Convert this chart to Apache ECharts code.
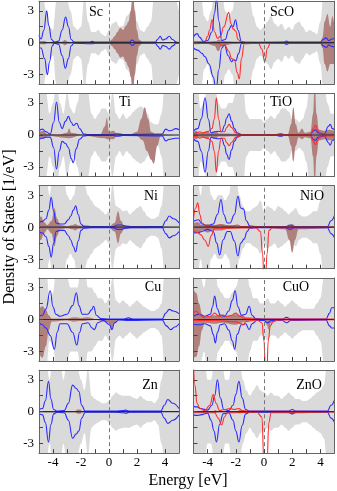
<!DOCTYPE html>
<html><head><meta charset="utf-8">
<script src="https://cdn.jsdelivr.net/npm/echarts@6/dist/echarts.min.js"></script>
<style>html,body{margin:0;padding:0;background:#fff}#c{width:337px;height:491px}</style>
</head><body><div id="c"></div><script>
// Energy grid for the grey (total) DOS envelope, -5..5 step 0.25
const ENERGY = [-5,-4.75,-4.5,-4.25,-4,-3.75,-3.5,-3.25,-3,-2.75,-2.5,-2.25,-2,-1.75,-1.5,-1.25,-1,-0.75,-0.5,-0.25,0,0.25,0.5,0.75,1,1.25,1.5,1.75,2,2.25,2.5,2.75,3,3.25,3.5,3.75,4,4.25,4.5,4.75,5];
const X_TICKS = [-4,-3,-2,-1,0,1,2,3,4];
const X_LABELS = [-4,-2,0,2,4];
const Y_TICKS = [-3,-1.5,0,1.5,3];
const Y_LABELS = [-3,0,3];
const PANEL_NAMES = ['Sc','ScO','Ti','TiO','Ni','NiO','Cu','CuO','Zn','ZnO'];

// grey envelope magnitude (values > 3.9 run off the panel)
const SC_GRAY  = [5,5,3,1.5,1.2,4,5,5,4,3,1.5,1.2,1.5,4.5,2,1,1,1.2,0.8,0.6,1.2,1.8,2,1.5,1.6,2.5,2.8,3,2,1.2,1,1.5,2,5,5,5,5,5,5,4,3];
const SCO_GRAY = [5,5,5,2.5,2,3,5,5,5,3,2.5,3,5,5,5,5,4,2.5,1.5,1.2,1.5,2,2.5,1.8,1.5,1.8,1.2,1.5,1.2,1.8,2,1.5,1,1.2,1,0.8,2,5,5,5,5];
const TI_GRAY  = [5,5,4,2,3,5,3,2,4,2.5,2,3,5,5,4,2,1.5,2,2.5,2.5,2,4,2,1.5,2,1.5,1.8,2.2,2.5,2.7,2.5,2,1.2,1,1,2,5,5,5,5,5];
const TIO_GRAY = [5,5,2.5,3,5,5,5,3,2.5,2.5,3,3,4,5,5,2,1.5,1.5,1.5,1.5,1.2,1.5,1.8,1.5,2,2.5,2.5,2.2,1.5,1.5,1.2,1.5,2.5,5,5,5,5,5,3,2,2];
const NI_GRAY  = [5,5,5,3,5,5,5,5,3,2.5,3,5,5,4,3,2.5,2,1.8,1.5,1.2,1.5,4,2,1.8,1.5,1.6,1.2,1.5,1.8,2,1.5,1,0.8,0.8,1,2,5,5,5,5,5];
const NIO_GRAY = [5,5,3,5,5,3,2.5,3,3,2.5,3,5,5,3,2,1.5,1.5,1.8,2,2.5,1.5,2,1.8,1.5,2,1.8,1.5,1.2,1.5,1.8,1.2,1,1,1.2,1.5,1.5,2.5,5,5,5,5];
const CU_GRAY  = [5,5,5,2,2.5,5,5,5,4,3,3,3,5,5,3,3,2.5,2,2,1.5,2,4,1.8,1.5,1.8,1.5,1.2,1.5,1.8,1.5,1.2,1,0.8,0.8,1,1.5,5,5,5,5,5];
const CUO_GRAY = [5,5,4,3,5,5,5,3,2.5,2,2,2.5,3,4,5,5,3,2,2,1.5,1.5,2,1.5,1.5,1.8,1.5,1.2,1.5,1.8,1.5,1.2,1,1,1,1,1.5,2,4,5,5,5];
const ZN_GRAY  = [5,5,5,3,5,5,5,3,5,5,5,4,3,2,4,1.5,1.2,1,0.8,0.8,1,1.5,1.8,1.6,1.5,1.5,1.5,1.3,1.2,1.5,1.2,1,1,0.8,1.2,3,5,5,5,5,5];
const ZNO_GRAY = [5,5,5,5,3,3,5,5,5,3,3,5,5,5,3,2,1.5,2,2.5,2,1.8,1.5,1.8,1.5,1.5,1.2,1.5,1.8,1.5,1.2,1.2,1,1,1.2,1.5,1.8,2,2.5,5,5,5];

// brown (projected) DOS, spin up / spin down
const SC_BROWN_UP = [[-5,0.15],[-4.6,0.15],[-4.4,0.05],[-3.8,0.12],[-3.35,0.1],[-3.15,0.25],[-2.95,0.1],[-2.5,0.05],[0,0.05],[0.2,0.3],[0.4,0.6],[0.6,1.0],[0.8,1.4],[1.0,1.2],[1.2,1.6],[1.4,2.0],[1.55,3],[1.7,5],[1.85,3],[2.0,1.2],[2.15,0.3],[2.4,0.05],[5,0.05]];
const SC_BROWN_DN = [[-5,-0.15],[-4.6,-0.15],[-4.4,-0.05],[-3.8,-0.12],[-3.35,-0.1],[-3.15,-0.25],[-2.95,-0.1],[-2.5,-0.05],[0,-0.05],[0.2,-0.3],[0.4,-0.6],[0.6,-1.0],[0.8,-1.4],[1.0,-1.3],[1.2,-1.8],[1.4,-2.3],[1.55,-3.2],[1.7,-5],[1.85,-3],[2.0,-1.2],[2.15,-0.3],[2.4,-0.05],[5,-0.05]];
const SCO_BROWN_UP = [[-5,0.15],[-4,0.12],[-3.4,0.15],[-3.2,0.3],[-3.0,0.15],[-2.2,0.12],[-1,0.08],[0,0.05],[4.0,0.05],[4.15,0.5],[4.3,2],[4.5,2.7],[4.7,1.5],[4.85,2.5],[5,1.5]];
const SCO_BROWN_DN = [[-5,-0.15],[-4,-0.12],[-3.5,-0.3],[-3.25,-0.8],[-3.0,-0.3],[-2.2,-0.12],[-1,-0.08],[0,-0.05],[4.0,-0.05],[4.15,-0.5],[4.3,-2],[4.5,-2.7],[4.7,-2],[5,-2]];
const TI_BROWN_UP = [[-5,0.3],[-4.7,0.4],[-4.4,0.1],[-3.5,0.05],[-3.0,0.2],[-2.85,0.6],[-2.7,0.2],[-2,0.05],[-0.6,0.1],[-0.3,0.8],[-0.15,1.6],[0,0.3],[0.3,0.4],[0.6,0.1],[1.5,0.05],[2.0,0.3],[2.3,1.5],[2.55,2.6],[2.8,1.5],[3.0,0.3],[3.3,0.1],[4,0.05],[5,0.1]];
const TI_BROWN_DN = [[-5,-0.4],[-4.7,-0.3],[-4.4,-0.1],[-2.85,-0.3],[-2,-0.05],[-0.3,-0.3],[-0.1,-0.4],[0.3,-0.4],[0.6,-0.1],[2.0,-0.1],[2.4,-0.5],[2.7,-1.5],[3.0,-2.3],[3.2,-2.7],[3.45,-1],[3.7,-0.1],[5,-0.1]];
const TIO_BROWN_UP = [[-5,0.3],[-4.8,0.4],[-4.6,0.2],[-4.3,0.2],[-4.0,0.4],[-3.8,0.15],[-3.4,0.35],[-3.2,0.15],[-1,0.1],[0,0.05],[1.7,0.1],[1.92,1.0],[2.08,2.6],[2.25,1],[2.45,0.2],[2.7,0.6],[2.9,0.2],[3.3,0.3],[3.48,2],[3.6,5],[3.72,2],[3.9,0.5],[4.3,0.4],[4.6,0.5],[5,0.4]];
const TIO_BROWN_DN = [[-5,-0.3],[-4.8,-0.4],[-4.6,-0.2],[-4.3,-0.2],[-4.0,-0.4],[-3.8,-0.15],[-3.4,-0.35],[-3.2,-0.15],[-1,-0.1],[0,-0.05],[1.7,-0.1],[1.92,-1.0],[2.08,-2.5],[2.25,-1],[2.45,-0.2],[2.7,-0.4],[2.9,-0.2],[3.3,-0.3],[3.48,-2],[3.6,-5],[3.72,-2],[3.9,-0.5],[4.3,-0.4],[4.6,-0.5],[5,-0.4]];
const NI_BROWN_UP = [[-5,0.9],[-4.85,1.0],[-4.65,0.5],[-4.4,0.2],[-4.1,0.6],[-3.9,1.8],[-3.7,0.8],[-3.5,0.2],[-3,0.1],[-2.6,0.2],[-2.4,0.3],[-2.2,0.15],[-1.5,0.05],[0,0.05],[0.4,0.4],[0.65,1.5],[0.85,0.6],[1.1,0.1],[5,0.05]];
const NI_BROWN_DN = [[-5,-1.2],[-4.85,-1.2],[-4.65,-0.6],[-4.4,-0.2],[-4.1,-0.6],[-3.9,-1.8],[-3.7,-0.8],[-3.5,-0.2],[-3,-0.1],[-2.6,-0.2],[-2.4,-0.3],[-2.2,-0.15],[-1.5,-0.05],[0,-0.05],[0.4,-0.4],[0.65,-1.5],[0.85,-0.6],[1.1,-0.1],[5,-0.05]];
const NIO_BROWN_UP = [[-5,0.4],[-4.7,0.5],[-4.4,0.2],[-4,0.3],[-3.6,0.2],[-3,0.3],[-2.5,0.15],[-1.5,0.1],[0,0.05],[1.7,0.1],[2.0,0.3],[2.3,0.05],[5,0.05]];
const NIO_BROWN_DN = [[-5,-0.5],[-4.7,-0.6],[-4.4,-0.3],[-4,-0.5],[-3.6,-0.3],[-3,-0.3],[-2.5,-0.15],[-1.5,-0.1],[0,-0.05],[1.5,-0.2],[1.8,-1.2],[2.0,-2.4],[2.2,-1.2],[2.45,-0.2],[5,-0.05]];
const CU_BROWN_UP = [[-5,1.0],[-4.75,1.25],[-4.5,0.9],[-4.3,0.4],[-4.1,0.1],[-3,0.1],[-2.5,0.2],[-2,0.15],[-1.5,0.2],[-1,0.05],[5,0.05]];
const CU_BROWN_DN = [[-5,-3.2],[-4.75,-3.6],[-4.5,-2.5],[-4.3,-1],[-4.1,-0.2],[-3,-0.1],[-2.5,-0.2],[-2,-0.15],[-1,-0.05],[0,-0.3],[0.15,-1.0],[0.35,-0.4],[0.6,-0.05],[5,-0.05]];
const CUO_BROWN_UP = [[-5,2.8],[-4.8,2.5],[-4.6,1.5],[-4.4,0.5],[-4.2,0.2],[-3.5,0.4],[-3.0,0.5],[-2.6,0.3],[-2.0,0.5],[-1.6,0.4],[-1.2,0.2],[0,0.05],[5,0.05]];
const CUO_BROWN_DN = [[-5,-3.6],[-4.8,-3.5],[-4.6,-2.5],[-4.4,-1.0],[-4.2,-0.3],[-3.5,-0.4],[-3.0,-0.3],[-2.0,-0.5],[-1.6,-0.3],[-1.2,-0.15],[0,-0.1],[0.2,-0.5],[0.35,-1.0],[0.5,-0.3],[0.8,-0.05],[5,-0.05]];
const ZN_BROWN_UP = [[-5,0.05],[-2.4,0.05],[-2.25,0.2],[-2.05,0.2],[-1.9,0.05],[5,0.03]];
const ZN_BROWN_DN = [[-5,-0.05],[-2.4,-0.05],[-2.25,-0.2],[-2.05,-0.2],[-1.9,-0.05],[5,-0.03]];
const ZNO_BROWN_UP = [[-5,0.05],[-3.6,0.05],[-3.45,0.15],[-3.3,0.05],[-1.9,0.05],[-1.75,0.15],[-1.6,0.15],[-1.45,0.05],[5,0.03]];
const ZNO_BROWN_DN = [[-5,-0.05],[-3.6,-0.05],[-3.45,-0.15],[-3.3,-0.05],[-1.9,-0.05],[-1.75,-0.15],[-1.6,-0.15],[-1.45,-0.05],[5,-0.03]];

// blue curves, spin up / spin down
const SC_BLUE_UP = [[-5,0.7],[-4.85,0.35],[-4.65,1.2],[-4.45,3.0],[-4.3,1.6],[-4.1,0.3],[-3.9,0.05],[-3.6,0.15],[-3.35,1.2],[-3.1,2.4],[-2.9,1.5],[-2.7,0.3],[-2.5,0.05],[-1.4,0.05],[-1.2,0.12],[-1.0,0.05],[1.45,0.05],[1.65,0.25],[1.9,0.05],[3.3,0.05],[3.5,0.35],[3.65,0.6],[3.85,0.25],[4.05,0.35],[4.3,0.6],[4.55,0.3],[4.8,0.05],[5,0.02]];
const SC_BLUE_DN = [[-5,-0.5],[-4.85,-0.5],[-4.6,-1.5],[-4.4,-3.0],[-4.25,-1.8],[-4.05,-0.3],[-3.9,-0.05],[-3.6,-0.15],[-3.35,-1.2],[-3.12,-2.4],[-2.9,-1.5],[-2.7,-0.3],[-2.5,-0.05],[-1.2,-0.1],[-1.0,-0.05],[1.45,-0.05],[1.65,-0.25],[1.9,-0.05],[3.3,-0.05],[3.5,-0.35],[3.65,-0.6],[3.85,-0.25],[4.05,-0.35],[4.3,-0.6],[4.55,-0.3],[4.8,-0.05],[5,-0.02]];
const SCO_BLUE_UP = [[-5,0.55],[-4.75,0.85],[-4.55,0.5],[-4.3,0.1],[-4.0,0.2],[-3.7,1.0],[-3.5,2.8],[-3.37,4.2],[-3.2,2.0],[-3.0,0.2],[-2.75,0.3],[-2.5,1.2],[-2.33,1.6],[-2.2,1.5],[-2.02,2.15],[-1.85,1.2],[-1.6,0.1],[-1.3,0.02],[1.4,0.05],[1.6,0.15],[1.8,0.05],[4.0,0.05],[4.2,0.3],[4.4,0.45],[4.6,0.2],[4.8,0.35],[5,0.4]];
const SCO_BLUE_DN = [[-5,-0.5],[-4.7,-0.7],[-4.4,-1.0],[-4.2,-1.3],[-3.9,-2.0],[-3.6,-3.2],[-3.4,-4.5],[-3.2,-2.5],[-3.0,-0.5],[-2.8,-0.2],[-2.55,-1.2],[-2.3,-1.8],[-2.15,-1.6],[-2.0,-1.7],[-1.8,-1.0],[-1.6,-0.1],[-1.3,-0.02],[1.4,-0.05],[1.6,-0.15],[1.8,-0.05],[4.0,-0.05],[4.2,-0.3],[4.4,-0.45],[4.6,-0.2],[4.8,-0.35],[5,-0.4]];
const TI_BLUE_UP = [[-5,0.4],[-4.75,0.55],[-4.5,0.3],[-4.2,0.1],[-3.95,1.2],[-3.75,3.1],[-3.55,1.2],[-3.35,0.6],[-3.1,1.3],[-2.9,1.75],[-2.7,1.2],[-2.55,0.9],[-2.3,1.1],[-2.1,0.6],[-1.8,0.1],[-1.5,0.05],[0.3,0.05],[0.6,0.12],[1.0,0.05],[3.8,0.1],[4.05,0.55],[4.3,0.4],[4.5,0.45],[4.75,0.6],[5,0.5]];
const TI_BLUE_DN = [[-5,-0.4],[-4.75,-0.3],[-4.5,-0.2],[-4.2,-0.2],[-3.95,-1.2],[-3.75,-3.2],[-3.55,-1.5],[-3.35,-0.6],[-3.1,-0.8],[-2.9,-1.2],[-2.7,-2.2],[-2.55,-2.6],[-2.35,-1.3],[-2.1,-0.4],[-1.8,-0.1],[-1.5,-0.05],[0.3,-0.05],[0.6,-0.12],[1.0,-0.05],[3.8,-0.1],[4.05,-0.55],[4.3,-0.4],[4.75,-0.3],[5,-0.3]];
const TIO_BLUE_UP = [[-5,0.4],[-4.7,0.6],[-4.45,1.5],[-4.18,3.5],[-3.95,1.5],[-3.75,0.2],[-3.5,0.3],[-3.25,0.35],[-3.0,0.3],[-2.8,0.9],[-2.65,1.6],[-2.48,2.0],[-2.3,1.3],[-2.1,0.6],[-1.9,0.2],[-1.6,0.05],[0.9,0.05],[1.2,0.12],[1.4,0.05],[3.3,0.05],[3.5,0.4],[3.65,0.5],[3.85,0.2],[4.3,0.1],[4.55,0.8],[4.7,1.0],[4.85,0.6],[5,0.5]];
const TIO_BLUE_DN = [[-5,-0.4],[-4.7,-0.6],[-4.45,-1.5],[-4.18,-3.5],[-3.95,-1.5],[-3.75,-0.2],[-3.5,-0.3],[-3.25,-0.35],[-3.0,-0.3],[-2.8,-1.0],[-2.65,-1.8],[-2.48,-2.3],[-2.3,-1.4],[-2.1,-0.6],[-1.9,-0.2],[-1.6,-0.05],[0.9,-0.05],[1.2,-0.12],[1.4,-0.05],[3.3,-0.05],[3.5,-0.4],[3.65,-0.5],[3.85,-0.2],[4.3,-0.1],[4.55,-0.7],[4.7,-0.95],[4.85,-0.5],[5,-0.4]];
const NI_BLUE_UP = [[-5,0.45],[-4.75,0.55],[-4.5,0.8],[-4.3,1.6],[-4.13,2.8],[-3.95,1.5],[-3.78,0.4],[-3.5,0.3],[-3.2,0.3],[-2.9,0.7],[-2.73,1.05],[-2.55,1.6],[-2.38,2.0],[-2.2,1.2],[-2.0,0.3],[-1.8,0.1],[-1.2,0.05],[0.3,0.05],[0.6,0.2],[0.9,0.2],[1.2,0.1],[1.6,0.05],[3.8,0.05],[4.05,0.6],[4.3,1.05],[4.6,0.8],[5,0.4]];
const NI_BLUE_DN = [[-5,-0.45],[-4.75,-0.55],[-4.5,-0.9],[-4.3,-1.8],[-4.13,-2.8],[-3.95,-1.5],[-3.78,-0.4],[-3.5,-0.3],[-3.2,-0.3],[-2.9,-0.8],[-2.73,-1.2],[-2.55,-1.8],[-2.38,-2.3],[-2.2,-1.3],[-2.0,-0.3],[-1.8,-0.1],[-1.2,-0.05],[0.3,-0.05],[0.6,-0.2],[0.9,-0.2],[1.2,-0.1],[1.6,-0.05],[3.8,-0.05],[4.05,-0.6],[4.3,-1.0],[4.6,-0.8],[5,-0.4]];
const NIO_BLUE_UP = [[-5,0.55],[-4.65,0.7],[-4.4,0.3],[-4.0,0.1],[-3.6,0.3],[-3.3,1.2],[-3.05,2.6],[-2.85,1.2],[-2.6,0.4],[-2.4,0.4],[-2.1,1.2],[-1.85,2.9],[-1.65,1.8],[-1.45,1.7],[-1.25,0.6],[-1.0,0.1],[-0.5,0.05],[1.5,0.05],[1.85,0.2],[2.2,0.05],[4.5,0.05],[4.75,0.6],[5,1.1]];
const NIO_BLUE_DN = [[-5,-0.55],[-4.65,-0.5],[-4.4,-0.4],[-4.0,-0.2],[-3.6,-0.4],[-3.35,-1.5],[-3.15,-2.6],[-2.9,-1.2],[-2.6,-0.4],[-2.4,-0.4],[-2.1,-1.3],[-1.85,-2.7],[-1.65,-1.5],[-1.4,-1.1],[-1.2,-0.4],[-1.0,-0.1],[-0.5,-0.05],[1.5,-0.05],[1.85,-0.2],[2.2,-0.05],[4.5,-0.05],[4.75,-0.6],[5,-1.0]];
const CU_BLUE_UP = [[-5,0.3],[-4.75,0.4],[-4.5,1.0],[-4.2,2.7],[-4.0,1.2],[-3.8,0.5],[-3.5,0.3],[-3.0,0.5],[-2.6,1.3],[-2.33,2.5],[-2.15,1.3],[-1.9,0.5],[-1.5,0.5],[-1.25,0.9],[-1.1,1.25],[-0.9,0.4],[-0.6,0.1],[0,0.05],[1.0,0.05],[1.4,0.15],[1.7,0.05],[3.8,0.05],[4.05,0.6],[4.3,0.95],[4.6,0.8],[5,0.55]];
const CU_BLUE_DN = [[-5,-0.3],[-4.75,-0.5],[-4.5,-0.8],[-4.2,-1.5],[-3.9,-2.8],[-3.7,-1.2],[-3.5,-0.4],[-3.0,-0.4],[-2.6,-1.2],[-2.3,-2.4],[-2.1,-1.2],[-1.9,-0.4],[-1.5,-0.3],[-1.2,-0.8],[-1.05,-0.95],[-0.8,-0.3],[-0.4,-0.1],[0.05,-0.5],[0.2,-0.95],[0.4,-0.3],[0.7,-0.05],[1.4,-0.1],[3.8,-0.05],[4.1,-0.6],[4.4,-0.95],[4.7,-0.7],[5,-0.4]];
const CUO_BLUE_UP = [[-5,0.3],[-4.6,0.5],[-4.2,0.3],[-3.8,0.5],[-3.65,1.2],[-3.5,2.2],[-3.3,1.0],[-3.1,0.4],[-2.8,0.3],[-2.5,0.8],[-2.25,1.8],[-2.05,2.7],[-1.85,1.2],[-1.6,0.4],[-1.3,0.5],[-1.05,1.25],[-0.85,0.4],[-0.6,0.1],[0,0.05],[1.3,0.05],[1.6,0.2],[1.9,0.05],[4.4,0.05],[4.65,0.6],[4.8,1.1],[5,1.1]];
const CUO_BLUE_DN = [[-5,-0.45],[-4.6,-0.5],[-4.2,-0.4],[-3.8,-0.6],[-3.6,-1.4],[-3.45,-2.2],[-3.3,-1.2],[-3.1,-0.5],[-2.8,-0.4],[-2.5,-1.0],[-2.25,-2.0],[-2.08,-2.8],[-1.9,-1.4],[-1.6,-0.5],[-1.3,-0.4],[-1.05,-0.95],[-0.85,-0.4],[-0.5,-0.1],[0,-0.1],[0.25,-0.3],[0.5,-0.1],[1.3,-0.1],[1.6,-0.3],[1.9,-0.1],[4.4,-0.05],[4.65,-0.6],[4.8,-0.8],[5,-0.8]];
const ZN_BLUE_UP = [[-5,0.2],[-4.75,0.3],[-4.55,1.0],[-4.32,2.85],[-4.15,1.2],[-3.95,0.2],[-3.7,0.05],[-3.2,0.1],[-2.9,0.8],[-2.6,2.5],[-2.35,2.2],[-2.15,1.9],[-1.95,0.6],[-1.7,0.05],[0.5,0.05],[1.0,0.1],[1.2,0.15],[1.45,0.05],[3.7,0.05],[3.95,0.6],[4.2,1.15],[4.55,0.8],[5,0.3]];
const ZN_BLUE_DN = [[-5,-0.2],[-4.75,-0.3],[-4.55,-1.0],[-4.32,-2.85],[-4.15,-1.2],[-3.95,-0.2],[-3.7,-0.05],[-3.2,-0.1],[-2.9,-0.8],[-2.6,-2.5],[-2.35,-2.1],[-2.15,-1.8],[-1.95,-0.6],[-1.7,-0.05],[0.5,-0.05],[1.0,-0.1],[1.2,-0.15],[1.45,-0.05],[3.7,-0.05],[3.95,-0.6],[4.2,-1.1],[4.55,-0.8],[5,-0.3]];
const ZNO_BLUE_UP = [[-5,0.5],[-4.75,0.45],[-4.5,0.3],[-4.0,0.15],[-3.7,0.6],[-3.5,1.5],[-3.3,3.0],[-3.1,1.3],[-2.85,0.2],[-2.5,0.1],[-2.2,0.6],[-2.0,1.6],[-1.78,2.85],[-1.55,1.3],[-1.3,0.2],[-1.0,0.05],[1.7,0.05],[2.0,0.2],[2.3,0.05],[4.5,0.05],[4.75,0.6],[5,1.1]];
const ZNO_BLUE_DN = [[-5,-0.3],[-4.75,-0.35],[-4.5,-0.3],[-4.0,-0.15],[-3.75,-0.8],[-3.55,-1.8],[-3.37,-2.85],[-3.15,-1.2],[-2.9,-0.2],[-2.5,-0.1],[-2.2,-0.8],[-2.0,-1.8],[-1.78,-2.85],[-1.55,-1.3],[-1.3,-0.2],[-1.0,-0.05],[1.7,-0.05],[2.0,-0.2],[2.3,-0.05],[4.5,-0.05],[4.75,-0.6],[5,-1.0]];

// red curves (oxides), spin up / spin down
const SCO_RED_UP = [[-5,0.05],[-4.2,0.05],[-4.0,0.6],[-3.85,1.2],[-3.68,2.15],[-3.5,1.0],[-3.3,0.4],[-3.1,0.6],[-2.85,1.5],[-2.5,2.85],[-2.35,1.8],[-2.2,1.3],[-2.0,1.1],[-1.85,0.3],[-1.6,0.05],[5,0.03]];
const SCO_RED_DN = [[-5,-0.05],[-3.2,-0.05],[-3.0,-0.3],[-2.8,-0.2],[-2.5,-0.8],[-2.3,-1.5],[-2.1,-1.6],[-1.9,-2.8],[-1.75,-3.4],[-1.6,-1.5],[-1.4,-0.1],[-0.4,-0.05],[-0.15,-0.6],[0.05,-1.8],[0.25,-0.5],[0.45,-0.05],[5,-0.03]];
const TIO_RED_UP = [[-5,0.1],[-4.75,0.2],[-4.55,0.3],[-4.35,0.2],[-4.0,0.3],[-3.7,0.6],[-3.52,1.5],[-3.38,3.5],[-3.22,1.5],[-3.05,0.3],[-2.8,0.3],[-2.65,0.7],[-2.48,1.0],[-2.3,0.7],[-2.0,0.2],[-1.6,0.05],[3.3,0.05],[3.5,0.6],[3.65,0.9],[3.8,0.5],[4.0,0.1],[5,0.1]];
const TIO_RED_DN = [[-5,-0.1],[-4.75,-0.2],[-4.55,-0.3],[-4.35,-0.2],[-4.0,-0.3],[-3.7,-0.6],[-3.52,-1.5],[-3.38,-3.5],[-3.22,-1.5],[-3.05,-0.3],[-2.8,-0.3],[-2.65,-0.7],[-2.48,-1.0],[-2.3,-0.7],[-2.0,-0.2],[-1.6,-0.05],[3.3,-0.05],[3.5,-0.6],[3.65,-0.9],[3.8,-0.5],[4.0,-0.1],[5,-0.1]];
const NIO_RED_UP = [[-5,0.8],[-4.85,1.8],[-4.7,2.3],[-4.55,1.2],[-4.4,0.4],[-4.1,0.1],[-3.5,0.1],[-3.1,0.2],[-2.8,0.1],[-2.2,0.1],[-1.9,0.2],[-1.6,0.05],[5,0.02]];
const NIO_RED_DN = [[-5,-0.3],[-4.7,-0.5],[-4.5,-0.7],[-4.2,-1.2],[-3.95,-1.8],[-3.75,-0.8],[-3.5,-0.1],[-0.6,-0.05],[-0.25,-0.4],[-0.1,-2.5],[0.0,-5],[0.1,-5],[0.22,-2.5],[0.35,-0.3],[0.6,-0.05],[5,-0.02]];
const CUO_RED_UP = [[-5,0.6],[-4.8,0.8],[-4.6,0.5],[-4.3,0.2],[-3.8,0.3],[-3.5,0.6],[-3.2,0.3],[-2.9,0.4],[-2.6,0.3],[-2.3,0.4],[-2.0,0.6],[-1.7,0.3],[-1.4,0.1],[-0.5,0.05],[5,0.05]];
const CUO_RED_DN = [[-5,-0.1],[-3.5,-0.1],[-2.0,-0.2],[-1.6,-0.4],[-1.45,-0.5],[-1.3,-0.2],[-0.5,-0.05],[-0.15,-0.3],[0.0,-2],[0.1,-5],[0.2,-5],[0.3,-2],[0.45,-0.6],[0.65,-0.2],[1,-0.05],[5,-0.02]];
const ZNO_RED_UP = [[-5,4.5],[-4.9,2.5],[-4.75,0.8],[-4.55,0.3],[-4.2,0.1],[-3.85,0.6],[-3.6,1.6],[-3.4,0.8],[-3.15,0.1],[-2.8,0.2],[-2.4,0.3],[-2.1,0.2],[-1.8,0.3],[-1.5,0.1],[-1.0,0.03],[5,0.02]];
const ZNO_RED_DN = [[-5,-0.1],[-3.5,-0.1],[-3.25,-0.6],[-3.0,-1.25],[-2.8,-0.5],[-2.6,-0.1],[-0.5,-0.05],[-0.15,-0.5],[0.0,-5],[0.2,-5],[0.35,-1],[0.5,-0.1],[5,-0.02]];

const PANELS = [
  {gray:SC_GRAY, bu:SC_BROWN_UP, bd:SC_BROWN_DN, lu:SC_BLUE_UP, ld:SC_BLUE_DN},
  {gray:SCO_GRAY, bu:SCO_BROWN_UP, bd:SCO_BROWN_DN, lu:SCO_BLUE_UP, ld:SCO_BLUE_DN, ru:SCO_RED_UP, rd:SCO_RED_DN},
  {gray:TI_GRAY, bu:TI_BROWN_UP, bd:TI_BROWN_DN, lu:TI_BLUE_UP, ld:TI_BLUE_DN},
  {gray:TIO_GRAY, bu:TIO_BROWN_UP, bd:TIO_BROWN_DN, lu:TIO_BLUE_UP, ld:TIO_BLUE_DN, ru:TIO_RED_UP, rd:TIO_RED_DN},
  {gray:NI_GRAY, bu:NI_BROWN_UP, bd:NI_BROWN_DN, lu:NI_BLUE_UP, ld:NI_BLUE_DN},
  {gray:NIO_GRAY, bu:NIO_BROWN_UP, bd:NIO_BROWN_DN, lu:NIO_BLUE_UP, ld:NIO_BLUE_DN, ru:NIO_RED_UP, rd:NIO_RED_DN},
  {gray:CU_GRAY, bu:CU_BROWN_UP, bd:CU_BROWN_DN, lu:CU_BLUE_UP, ld:CU_BLUE_DN},
  {gray:CUO_GRAY, bu:CUO_BROWN_UP, bd:CUO_BROWN_DN, lu:CUO_BLUE_UP, ld:CUO_BLUE_DN, ru:CUO_RED_UP, rd:CUO_RED_DN},
  {gray:ZN_GRAY, bu:ZN_BROWN_UP, bd:ZN_BROWN_DN, lu:ZN_BLUE_UP, ld:ZN_BLUE_DN},
  {gray:ZNO_GRAY, bu:ZNO_BROWN_UP, bd:ZNO_BROWN_DN, lu:ZNO_BLUE_UP, ld:ZNO_BLUE_DN, ru:ZNO_RED_UP, rd:ZNO_RED_DN}
];
const LABEL_POS = [[96,12],[282,12],[125,102],[281,102],[151,196],[312,196],[153,287],[296,287],[150,385],[309,385]];

const COL_LEFT = [39, 193.5], COL_W = [140, 141];
const ROW_TOP = [1.2, 93.5, 185.7, 278, 370.2], ROW_H = 83;
const FONT = 'Liberation Serif';
const GRAY = '#dadada', BROWN = '#b0807d', BLUE = '#2a2aff', RED = '#ff2d2d', FRAME = '#666';

const grid = [], xAxis = [], yAxis = [], series = [], graphic = [];
PANELS.forEach((p, i) => {
  const col = i % 2, row = Math.floor(i / 2);
  grid.push({left: COL_LEFT[col], top: ROW_TOP[row], width: COL_W[col], height: ROW_H, containLabel: false});
  const xi = xAxis.length, yi = yAxis.length;
  xAxis.push({type:'value', gridIndex:i, min:-5, max:5, position:'bottom', z:5,
    axisLine:{show:true, onZero:false, lineStyle:{color:FRAME, width:1}},
    axisTick:{show:true, inside:true, length:4, customValues:X_TICKS, lineStyle:{color:'#444'}},
    axisLabel:{show: row === 4, customValues:X_LABELS, margin:3, color:'#000', fontFamily:FONT, fontSize:13},
    splitLine:{show:false}});
  xAxis.push({type:'value', gridIndex:i, min:-5, max:5, position:'top', z:5,
    axisLine:{show:true, onZero:false, lineStyle:{color:FRAME, width:1}},
    axisTick:{show:false}, axisLabel:{show:false}, splitLine:{show:false}});
  yAxis.push({type:'value', gridIndex:i, min:-3.9, max:3.9, position:'left', z:5,
    axisLine:{show:true, onZero:false, lineStyle:{color:FRAME, width:1}},
    axisTick:{show:true, inside:true, length:4, customValues:Y_TICKS, lineStyle:{color:'#444'}},
    axisLabel:{show: col === 0, customValues:Y_LABELS, margin:5, color:'#000', fontFamily:FONT, fontSize:13},
    splitLine:{show:false}});
  yAxis.push({type:'value', gridIndex:i, min:-3.9, max:3.9, position:'right', z:5,
    axisLine:{show:true, onZero:false, lineStyle:{color:FRAME, width:1}},
    axisTick:{show:false}, axisLabel:{show:false}, splitLine:{show:false}});
  const base = {type:'line', xAxisIndex:xi, yAxisIndex:yi, showSymbol:false, symbol:'none', silent:true, animation:false, clip:true};
  const area = (data, color, sm) => Object.assign({}, base, {data, smooth:sm, smoothMonotone:'x',
    lineStyle:{width:0, color}, itemStyle:{color}, areaStyle:{color, opacity:1}});
  const line = (data, color) => Object.assign({}, base, {data, smooth:0.45, smoothMonotone:'x',
    lineStyle:{width:1.1, color}, itemStyle:{color}});
  series.push(area(ENERGY.map((e, k) => [e, p.gray[k]]), GRAY, 0.35));
  series.push(area(ENERGY.map((e, k) => [e, -p.gray[k]]), GRAY, 0.35));
  series.push(area(p.bu, BROWN, 0.4));
  series.push(area(p.bd, BROWN, 0.4));
  series.push(line(p.lu, BLUE));
  series.push(line(p.ld, BLUE));
  if (p.ru) { series.push(line(p.ru, RED)); series.push(line(p.rd, RED)); }
  series.push(Object.assign({}, base, {data:[[-5,0],[5,0]], lineStyle:{width:1.2, color:'#2b2b3a'}, itemStyle:{color:'#2b2b3a'},
    markLine:{silent:true, symbol:'none', label:{show:false}, animation:false,
      lineStyle:{color:'#777', type:[4,3], width:1}, data:[{xAxis:0}]}}));
  graphic.push({type:'text', x:LABEL_POS[i][0], y:LABEL_POS[i][1], z:10,
    style:{text:PANEL_NAMES[i], fill:'#000', font:'14px "Liberation Serif"', textAlign:'center', textVerticalAlign:'middle'}});
});
graphic.push({type:'text', x:10, y:227, rotation:Math.PI/2, z:10,
  style:{text:'Density of States [1/eV]', fill:'#000', font:'16px "Liberation Serif"', textAlign:'center', textVerticalAlign:'middle'}});
graphic.push({type:'text', x:188, y:481, z:10,
  style:{text:'Energy [eV]', fill:'#000', font:'16px "Liberation Serif"', textAlign:'center', textVerticalAlign:'middle'}});

const chart = echarts.init(document.getElementById('c'), null, {renderer:'canvas'});
chart.setOption({animation:false, backgroundColor:'#fff', grid, xAxis, yAxis, series, graphic});
</script></body></html>
